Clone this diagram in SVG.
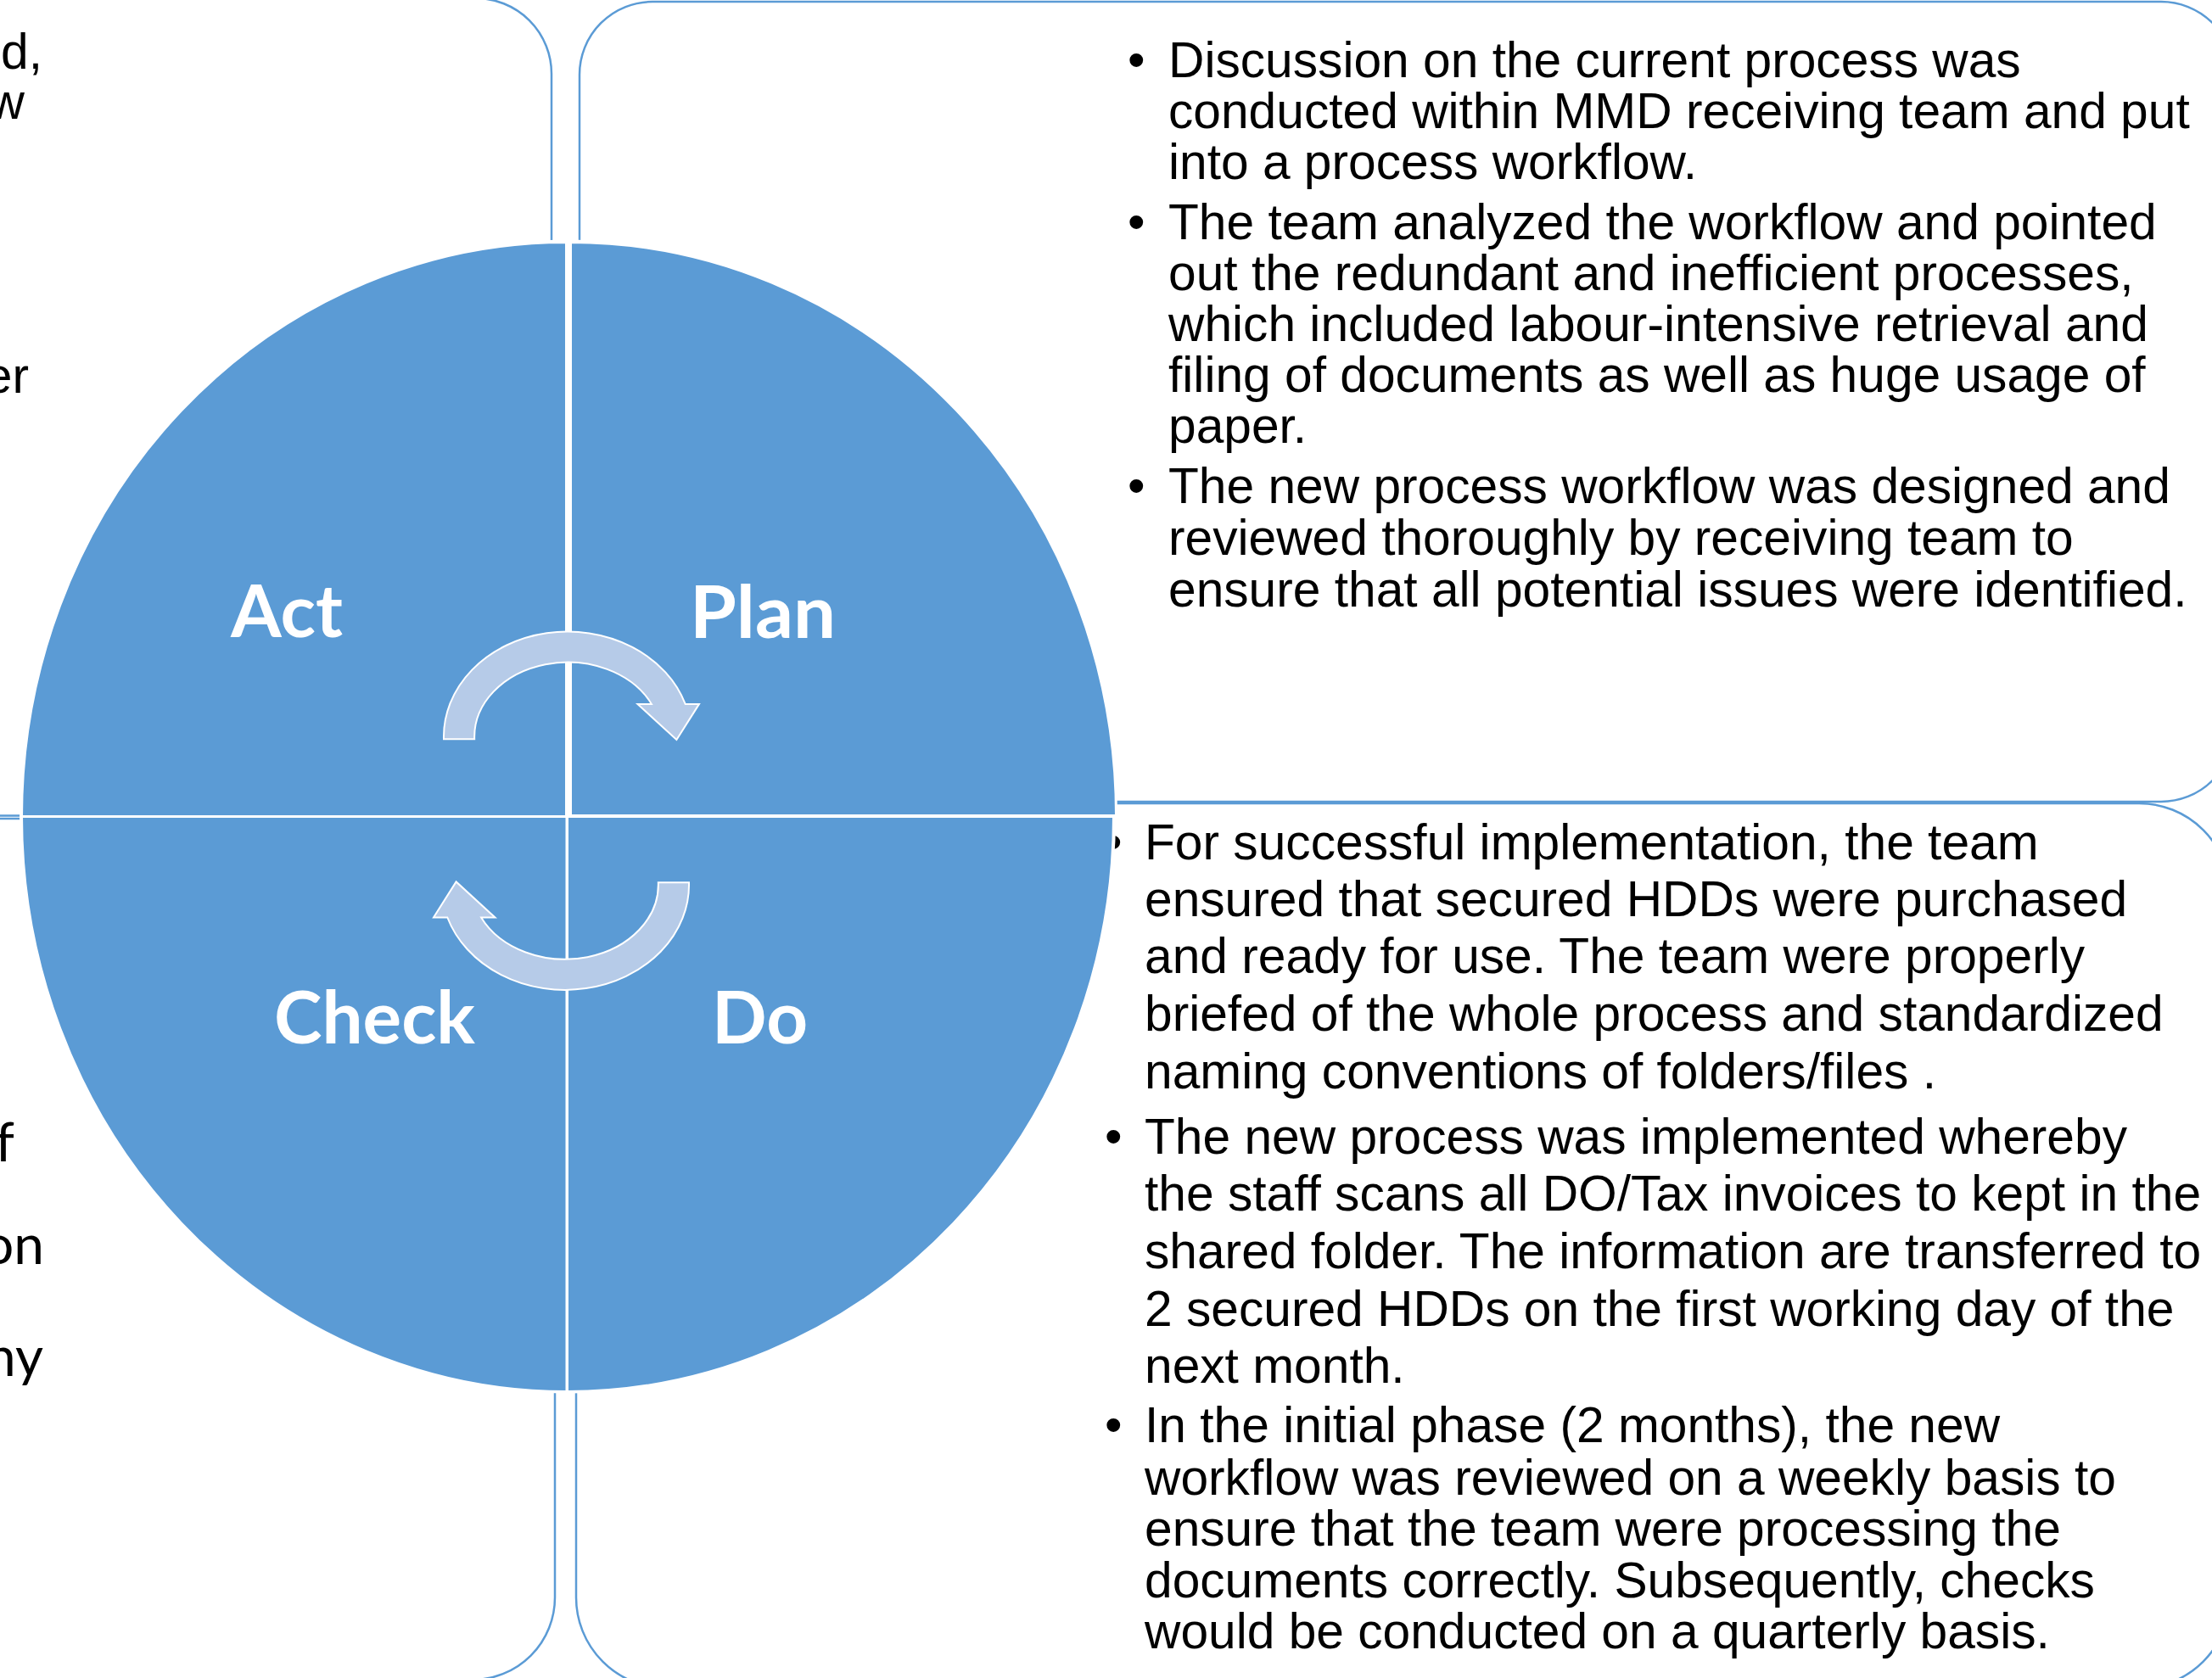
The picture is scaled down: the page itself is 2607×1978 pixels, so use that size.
<svg xmlns="http://www.w3.org/2000/svg" width="2607" height="1978" viewBox="0 0 2607 1978">
  <style>
    .box { fill: none; stroke: #5B9BD5; stroke-width: 2.5; }
    .quad { fill: #5B9BD5; stroke: #FFFFFF; stroke-width: 3; }
    .body { font-family: "Liberation Sans", Arial, sans-serif; font-size: 58.7px; fill: #000000; }
    .side { font-family: Lato, "Open Sans", sans-serif; font-size: 64px; fill: #000000; }
    .lbl { font-family: Lato, "Open Sans", sans-serif; font-weight: 700; font-size: 86px; fill: #FFFFFF; }
    .arrow { fill: #B6CBE8; stroke: #FFFFFF; stroke-width: 2; stroke-linejoin: miter; }
  </style>
  <defs>
    <path id="cycle-arrow" d="M 523 871.2 A 146 124 0 0 1 807.7 829.9 L 824 829.9 L 797.4 872 L 751.5 829.9 L 767.9 829.9 A 110 88 0 0 0 559.2 871.2 Z"/>
  </defs>
  <rect width="2607" height="1978" fill="#FFFFFF"/>

  <!-- outer text panels -->
  <g id="panel-act">
    <rect class="box" x="-300" y="-2" width="950" height="963.5" rx="89"/>
    <text class="body" x="50" y="81" text-anchor="end">d,</text>
    <text class="body" x="29" y="140" text-anchor="end">w</text>
    <text class="body" x="34" y="463" text-anchor="end">er</text>
  </g>

  <g id="panel-check">
    <rect class="box" x="-300" y="965" width="954" height="1015" rx="97"/>
    <text class="side" x="17" y="1369" text-anchor="end">f</text>
    <text class="side" x="52" y="1490" text-anchor="end">on</text>
    <text class="side" x="51" y="1622" text-anchor="end">ny</text>
  </g>

  <g id="panel-plan">
    <rect class="box" x="683" y="2" width="1950" height="943" rx="86"/>
    <text class="body" x="1329" y="91">•</text>
    <text class="body" x="1377" y="91">Discussion on the current process was</text>
    <text class="body" x="1377" y="151">conducted within MMD receiving team and put</text>
    <text class="body" x="1377" y="211">into a process workflow.</text>
    <text class="body" x="1329" y="282">•</text>
    <text class="body" x="1377" y="282">The team analyzed the workflow and pointed</text>
    <text class="body" x="1377" y="342">out the redundant and inefficient processes,</text>
    <text class="body" x="1377" y="402">which included labour-intensive retrieval and</text>
    <text class="body" x="1377" y="462">filing of documents as well as huge usage of</text>
    <text class="body" x="1377" y="522">paper.</text>
    <text class="body" x="1329" y="593">•</text>
    <text class="body" x="1377" y="593">The new process workflow was designed and</text>
    <text class="body" x="1377" y="654">reviewed thoroughly by receiving team to</text>
    <text class="body" x="1377" y="715">ensure that all potential issues were identified.</text>
  </g>

  <g id="panel-do">
    <rect class="box" x="679" y="947" width="1949" height="1043" rx="107"/>
    <text class="body" x="1302" y="1013">•</text>
    <text class="body" x="1349" y="1013">For successful implementation, the team</text>
    <text class="body" x="1349" y="1080">ensured that secured HDDs were purchased</text>
    <text class="body" x="1349" y="1147">and ready for use. The team were properly</text>
    <text class="body" x="1349" y="1215">briefed of the whole process and standardized</text>
    <text class="body" x="1349" y="1283">naming conventions of folders/files .</text>
    <text class="body" x="1302" y="1360">•</text>
    <text class="body" x="1349" y="1360">The new process was implemented whereby</text>
    <text class="body" x="1349" y="1427">the staff scans all DO/Tax invoices to kept in the</text>
    <text class="body" x="1349" y="1495">shared folder. The information are transferred to</text>
    <text class="body" x="1349" y="1563">2 secured HDDs on the first working day of the</text>
    <text class="body" x="1349" y="1630">next month.</text>
    <text class="body" x="1302" y="1700">•</text>
    <text class="body" x="1349" y="1700">In the initial phase (2 months), the new</text>
    <text class="body" x="1349" y="1762">workflow was reviewed on a weekly basis to</text>
    <text class="body" x="1349" y="1822">ensure that the team were processing the</text>
    <text class="body" x="1349" y="1883">documents correctly. Subsequently, checks</text>
    <text class="body" x="1349" y="1943">would be conducted on a quarterly basis.</text>
  </g>

  <!-- central PDCA wheel -->
  <ellipse cx="669" cy="962.5" rx="646" ry="680" fill="#FFFFFF"/>
  <g id="node-act">
    <path class="quad" d="M 667.5 963 L 25.5 963 A 642 677.5 0 0 1 667.5 285.5 Z"/>
    <text class="lbl" x="272" y="751" textLength="132" lengthAdjust="spacingAndGlyphs">Act</text>
  </g>
  <g id="node-plan">
    <path class="quad" d="M 672.5 961.5 L 672.5 285.5 A 643 676 0 0 1 1315.5 961.5 Z"/>
    <text class="lbl" x="813" y="752" textLength="172" lengthAdjust="spacingAndGlyphs">Plan</text>
  </g>
  <g id="node-check">
    <path class="quad" d="M 668 962.5 L 668 1640.5 A 642.5 678 0 0 1 25.5 962.5 Z"/>
    <text class="lbl" x="323" y="1230" textLength="237" lengthAdjust="spacingAndGlyphs">Check</text>
  </g>
  <g id="node-do">
    <path class="quad" d="M 668.5 962.5 L 1312.5 962.5 A 644 678 0 0 1 668.5 1640.5 Z"/>
    <text class="lbl" x="839" y="1230" textLength="113" lengthAdjust="spacingAndGlyphs">Do</text>
  </g>

  <!-- cycle arrows -->
  <g id="connectors">
    <use href="#cycle-arrow" class="arrow"/>
    <use href="#cycle-arrow" class="arrow" transform="rotate(180 667.5 955.7)"/>
  </g>
</svg>
